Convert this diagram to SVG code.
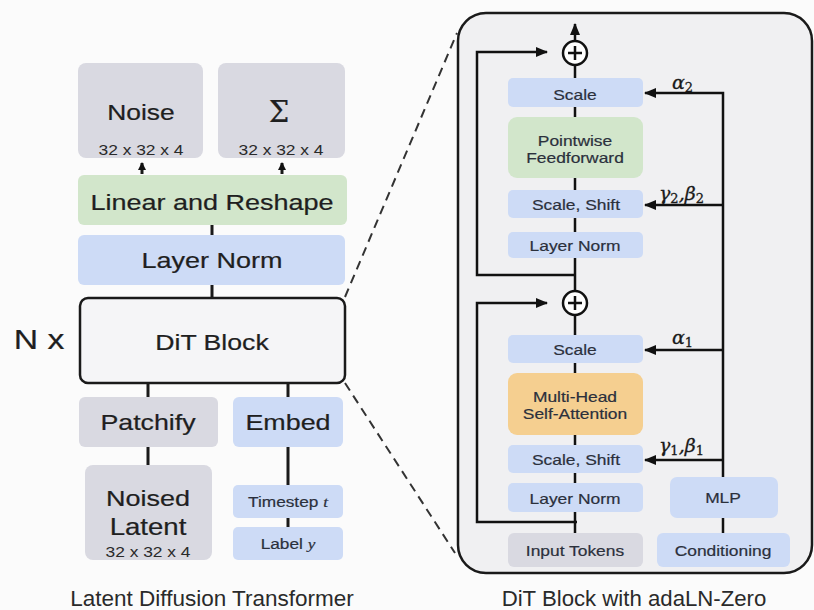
<svg xmlns="http://www.w3.org/2000/svg" width="814" height="610" viewBox="0 0 814 610">
<defs>
<style>
.t{font-family:"Liberation Sans",Arial,sans-serif;fill:#1f1f1f;text-anchor:middle;stroke:#1f1f1f;stroke-width:0.22}
.s{font-family:"Liberation Sans",Arial,sans-serif;fill:#2a2a2a;text-anchor:middle}
.r{font-family:"Liberation Sans",Arial,sans-serif;fill:#2b303c;text-anchor:middle;font-size:15px;stroke:#2b303c;stroke-width:0.2}
.m{font-family:"DejaVu Serif","Liberation Serif",serif;font-style:italic;fill:#1a1a1a;font-size:19px;stroke:#1a1a1a;stroke-width:0.3}
.gray{fill:#d9d9e1}
.green{fill:#d2e6cb}
.blue{fill:#cddbf6}
.orange{fill:#f5cf90}
.c{stroke:#1a1a1a;stroke-width:3;fill:none}
.k{stroke:#111;stroke-width:2.5;fill:none}
</style>
<marker id="ah" markerUnits="userSpaceOnUse" markerWidth="12" markerHeight="10" refX="11" refY="5" orient="auto">
<path d="M0,0 L12,5 L0,10 Z" fill="#111"/>
</marker>
<marker id="as" markerUnits="userSpaceOnUse" markerWidth="8" markerHeight="8" refX="7" refY="4" orient="auto">
<path d="M0,0 L8,4 L0,8 Z" fill="#111"/>
</marker>
</defs>
<rect width="814" height="610" fill="#fbfbfb"/>

<g id="connectors">
<path class="c" d="M142 174 V163" marker-end="url(#as)"/>
<path class="c" d="M282 174 V163" marker-end="url(#as)"/>
<path class="c" d="M212 225 V235 M212 285 V298 M148 383 V397 M288 383 V397 M148 447 V465 M288 447 V485 M288 518 V527"/>
<path d="M345 297 L457 33 M345 383 L455 553" stroke="#333" stroke-width="2" stroke-dasharray="9 6" fill="none"/>
</g>

<g id="panel">
<rect x="458" y="13" width="354" height="560" rx="28" fill="#f0f0f2" stroke="#1a1a1a" stroke-width="2.5"/>
</g>

<g id="noise"><rect class="gray" x="78" y="63" width="125" height="95" rx="8"/>
<text class="t" transform="translate(141 120) scale(1.2 1)" font-size="22">Noise</text>
<text class="s" transform="translate(141 155) scale(1.2 1)" font-size="14.5">32 x 32 x 4</text></g>
<g id="sigma"><rect class="gray" x="218" y="63" width="127" height="95" rx="8"/>
<text class="t" x="279" y="122" font-size="29" style="font-family:'DejaVu Serif','Liberation Serif',serif">Σ</text>
<text class="s" transform="translate(281 155) scale(1.2 1)" font-size="14.5">32 x 32 x 4</text></g>
<g id="linear"><rect class="green" x="78" y="175" width="269" height="50" rx="6"/>
<text class="t" transform="translate(212 210) scale(1.2 1)" font-size="22.5">Linear and Reshape</text></g>
<g id="layernorm"><rect class="blue" x="78" y="235" width="267" height="50" rx="6"/>
<text class="t" transform="translate(212 268) scale(1.2 1)" font-size="22.5">Layer Norm</text></g>
<g id="ditblock"><rect x="80" y="298" width="265" height="85" rx="8" fill="#f5f5f7" stroke="#1a1a1a" stroke-width="2.5"/>
<text class="t" transform="translate(212 350) scale(1.2 1)" font-size="22.2">DiT Block</text></g>
<g id="nx"><text class="t" transform="translate(39 349) scale(1.25 1)" font-size="27">N x</text></g>
<g id="patchify"><rect class="gray" x="79" y="397" width="139" height="50" rx="6"/>
<text class="t" transform="translate(148 430) scale(1.2 1)" font-size="22.3">Patchify</text></g>
<g id="embed"><rect class="blue" x="233" y="397" width="110" height="50" rx="6"/>
<text class="t" transform="translate(288 430) scale(1.2 1)" font-size="22.4">Embed</text></g>
<g id="noised"><rect class="gray" x="85" y="465" width="127" height="95" rx="8"/>
<text class="t" transform="translate(148 506) scale(1.2 1)" font-size="22.5">Noised</text>
<text class="t" transform="translate(148 535) scale(1.2 1)" font-size="23">Latent</text>
<text class="s" transform="translate(148 557) scale(1.2 1)" font-size="14.5">32 x 32 x 4</text></g>
<g id="timestep"><rect class="blue" x="233" y="485" width="110" height="33" rx="5"/>
<text class="r" transform="translate(288 507) scale(1.15 1)" font-size="15">Timestep <tspan style="font-family:'Liberation Serif',serif;font-style:italic">t</tspan></text></g>
<g id="label"><rect class="blue" x="233" y="527" width="110" height="33" rx="5"/>
<text class="r" transform="translate(288 549) scale(1.15 1)" font-size="15">Label <tspan style="font-family:'Liberation Serif',serif;font-style:italic">y</tspan></text></g>

<g id="block-connectors">
<path class="k" d="M575 40 V24" marker-end="url(#ah)"/>
<path class="k" d="M575 65 V78 M575 107 V117 M575 178 V190 M575 218 V232 M575 258 V291 M575 315 V335 M575 363 V373 M575 435 V445 M575 473 V483 M575 512 V533 M723 518 V533"/>
<path class="k" d="M575 275 H477 V52 H547" marker-end="url(#ah)"/>
<path class="k" d="M577 522 H477 V303 H547" marker-end="url(#ah)"/>
<path class="k" d="M723 477 V93 H645" marker-end="url(#ah)"/>
<path class="k" d="M723 205 H645" marker-end="url(#ah)"/>
<path class="k" d="M723 350 H645" marker-end="url(#ah)"/>
<path class="k" d="M723 460 H645" marker-end="url(#ah)"/>
</g>

<g id="plus2"><circle cx="575" cy="53" r="12" fill="#fff" stroke="#111" stroke-width="2.5"/><path class="k" d="M568 53 H582 M575 46 V60"/></g>
<g id="plus1"><circle cx="575" cy="303" r="12" fill="#fff" stroke="#111" stroke-width="2.5"/><path class="k" d="M568 303 H582 M575 296 V310"/></g>

<g id="scale2"><rect class="blue" x="508" y="78" width="135" height="29" rx="5"/><text class="r" transform="translate(575 100) scale(1.16 1)">Scale</text></g>
<g id="ff"><rect class="green" x="508" y="117" width="135" height="61" rx="9"/>
<text class="r" transform="translate(575 146) scale(1.16 1)">Pointwise</text>
<text class="r" transform="translate(575 163) scale(1.16 1)">Feedforward</text></g>
<g id="scaleshift2"><rect class="blue" x="508" y="190" width="135" height="28" rx="5"/><text class="r" transform="translate(576 210) scale(1.16 1)">Scale, Shift</text></g>
<g id="ln2"><rect class="blue" x="508" y="232" width="135" height="26" rx="5"/><text class="r" transform="translate(575 251) scale(1.16 1)">Layer Norm</text></g>
<g id="scale1"><rect class="blue" x="508" y="335" width="135" height="28" rx="5"/><text class="r" transform="translate(575 355) scale(1.16 1)">Scale</text></g>
<g id="mhsa"><rect class="orange" x="508" y="373" width="135" height="62" rx="9"/>
<text class="r" transform="translate(575 402) scale(1.16 1)">Multi-Head</text>
<text class="r" transform="translate(575 419) scale(1.16 1)">Self-Attention</text></g>
<g id="scaleshift1"><rect class="blue" x="508" y="445" width="135" height="28" rx="5"/><text class="r" transform="translate(576 465) scale(1.16 1)">Scale, Shift</text></g>
<g id="ln1"><rect class="blue" x="508" y="483" width="135" height="29" rx="5"/><text class="r" transform="translate(575 504) scale(1.16 1)">Layer Norm</text></g>
<g id="mlp"><rect class="blue" x="670" y="477" width="108" height="41" rx="7"/><text class="r" transform="translate(723 503) scale(1.16 1)">MLP</text></g>
<g id="input"><rect class="gray" x="508" y="533" width="135" height="34" rx="6"/><text class="r" transform="translate(575 556) scale(1.16 1)">Input Tokens</text></g>
<g id="cond"><rect class="blue" x="657" y="533" width="133" height="34" rx="6"/><text class="r" transform="translate(723 556) scale(1.16 1)">Conditioning</text></g>

<g id="labels">
<text class="m" x="672" y="89">α<tspan font-style="normal" font-size="13" dy="3">2</tspan></text>
<text class="m" x="659" y="200">γ<tspan font-style="normal" font-size="13" dy="3">2</tspan><tspan dy="-3">,β</tspan><tspan font-style="normal" font-size="13" dy="3">2</tspan></text>
<text class="m" x="672" y="344">α<tspan font-style="normal" font-size="13" dy="3">1</tspan></text>
<text class="m" x="659" y="452">γ<tspan font-style="normal" font-size="13" dy="3">1</tspan><tspan dy="-3">,β</tspan><tspan font-style="normal" font-size="13" dy="3">1</tspan></text>
</g>

<g id="captions">
<text class="s" x="212" y="606" font-size="22.5">Latent Diffusion Transformer</text>
<text class="s" x="634" y="606" font-size="22.2">DiT Block with adaLN-Zero</text>
</g>
</svg>
